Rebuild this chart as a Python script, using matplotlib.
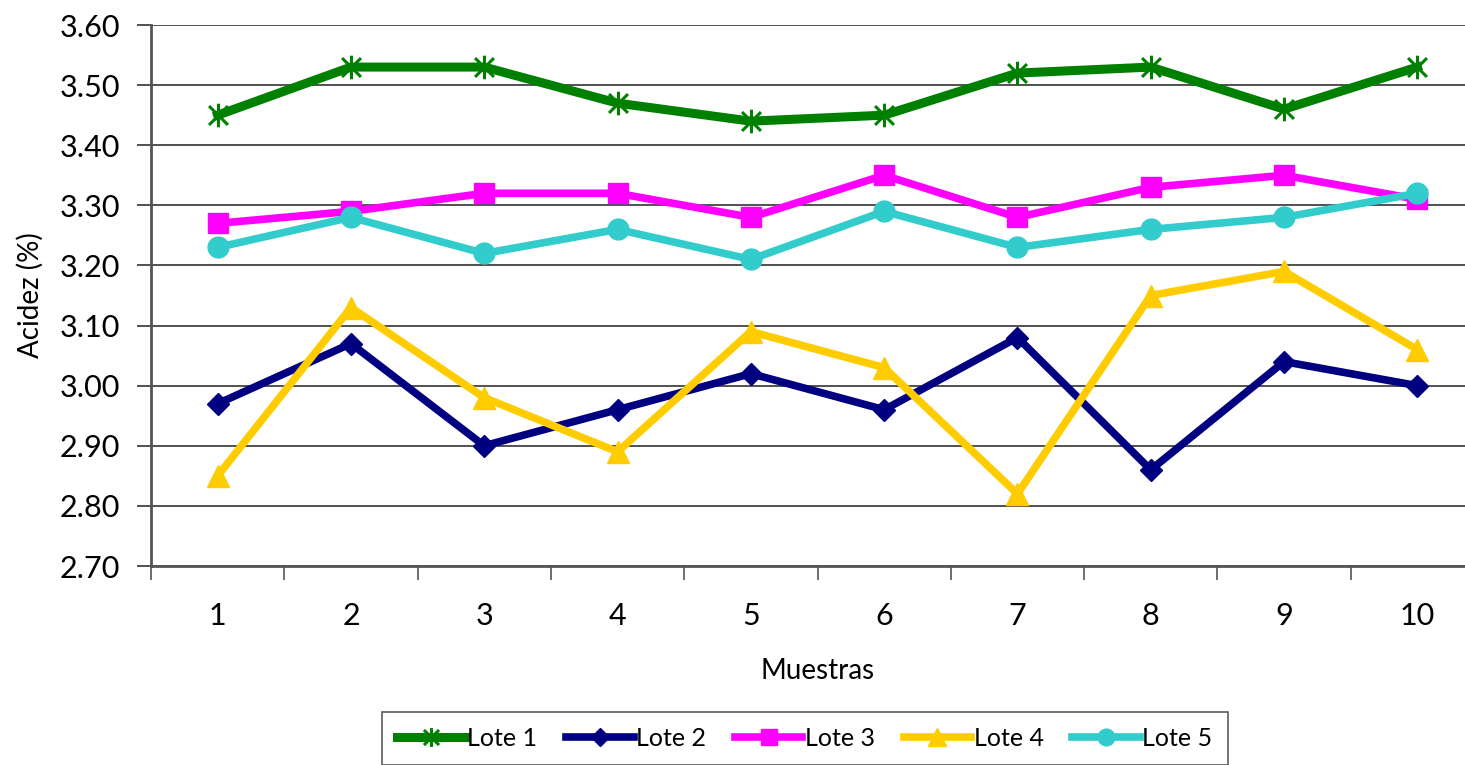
import matplotlib
matplotlib.use("Agg")
import matplotlib.pyplot as plt
import matplotlib.path as mpath
import numpy as np

plt.rcParams["font.family"] = ["Lato", "DejaVu Sans"]

muestras = [1, 2, 3, 4, 5, 6, 7, 8, 9, 10]
lote_1 = [3.45, 3.53, 3.53, 3.47, 3.44, 3.45, 3.52, 3.53, 3.46, 3.53]
lote_2 = [2.97, 3.07, 2.90, 2.96, 3.02, 2.96, 3.08, 2.86, 3.04, 3.00]
lote_3 = [3.27, 3.29, 3.32, 3.32, 3.28, 3.35, 3.28, 3.33, 3.35, 3.31]
lote_4 = [2.85, 3.13, 2.98, 2.89, 3.09, 3.03, 2.82, 3.15, 3.19, 3.06]
lote_5 = [3.23, 3.28, 3.22, 3.26, 3.21, 3.29, 3.23, 3.26, 3.28, 3.32]
y_ticks = [2.70, 2.80, 2.90, 3.00, 3.10, 3.20, 3.30, 3.40, 3.50, 3.60]

# asterisk marker: vertical bar plus an X
star_path = mpath.Path(
    [(0, -1), (0, 1), (-0.8, -0.8), (0.8, 0.8), (-0.8, 0.8), (0.8, -0.8)],
    [mpath.Path.MOVETO, mpath.Path.LINETO] * 3,
)

series = [
    ("Lote 1", lote_1, "#008000", star_path, 17, 6.5),
    ("Lote 2", lote_2, "#000080", "D", 11, 5.5),
    ("Lote 3", lote_3, "#FF00FF", "s", 14, 5.5),
    ("Lote 4", lote_4, "#FFCC00", "^", 16, 5.5),
    ("Lote 5", lote_5, "#33CCCC", "o", 15, 5.5),
]

fig = plt.figure(figsize=(14.65, 7.65), dpi=100)
W, H = 1465, 765
ax = fig.add_axes([151 / W, 1 - 566 / H, (1484 - 151) / W, (566 - 25) / H])

x = np.array(muestras)
for name, vals, color, marker, ms, lw in series:
    if name == "Lote 1":
        ax.plot(x, vals, color=color, lw=lw, marker=marker, ms=ms,
                markeredgecolor=color, markeredgewidth=2.2, label=name,
                solid_joinstyle="miter", clip_on=False)
    else:
        ax.plot(x, vals, color=color, lw=lw, marker=marker, ms=ms,
                markeredgecolor=color, markerfacecolor=color, label=name,
                solid_joinstyle="miter", clip_on=False)

ax.set_xlim(0.5, 10.5)
ax.set_ylim(2.70, 3.60)
ax.set_yticks(y_ticks)
ax.set_yticklabels([f"{v:.2f}" for v in y_ticks])
ax.set_xticks(x)
ax.set_xticklabels([str(m) for m in muestras])
ax.set_xticks(np.arange(0.5, 11, 1), minor=True)
ax.tick_params(axis="x", which="major", length=0, pad=26, labelsize=22)
ax.tick_params(axis="x", which="minor", length=10, width=1.2, color="#555555", direction="out")
ax.tick_params(axis="y", which="major", length=10, width=1.2, color="#333333",
               direction="out", pad=12, labelsize=22)

ax.grid(axis="y", color="#222222", lw=1.1)
ax.set_axisbelow(True)
for side in ("top", "right"):
    ax.spines[side].set_visible(False)
ax.spines["left"].set_color("#555555")
ax.spines["left"].set_linewidth(2)
ax.spines["bottom"].set_color("#555555")
ax.spines["bottom"].set_linewidth(2)

ax.set_ylabel("Acidez (%)", fontsize=20, labelpad=12)
ax.set_xlabel("Muestras", fontsize=20, labelpad=20)

leg = fig.legend(loc="upper center", bbox_to_anchor=(805 / W, 1 - 699 / H),
                 ncol=5, fontsize=18, frameon=True, fancybox=False,
                 edgecolor="#333333", handlelength=2.7, handletextpad=0.1,
                 columnspacing=1.15, borderpad=0.6, markerscale=0.8)
leg.get_frame().set_linewidth(1.2)

fig.savefig("out.png", dpi=100)
